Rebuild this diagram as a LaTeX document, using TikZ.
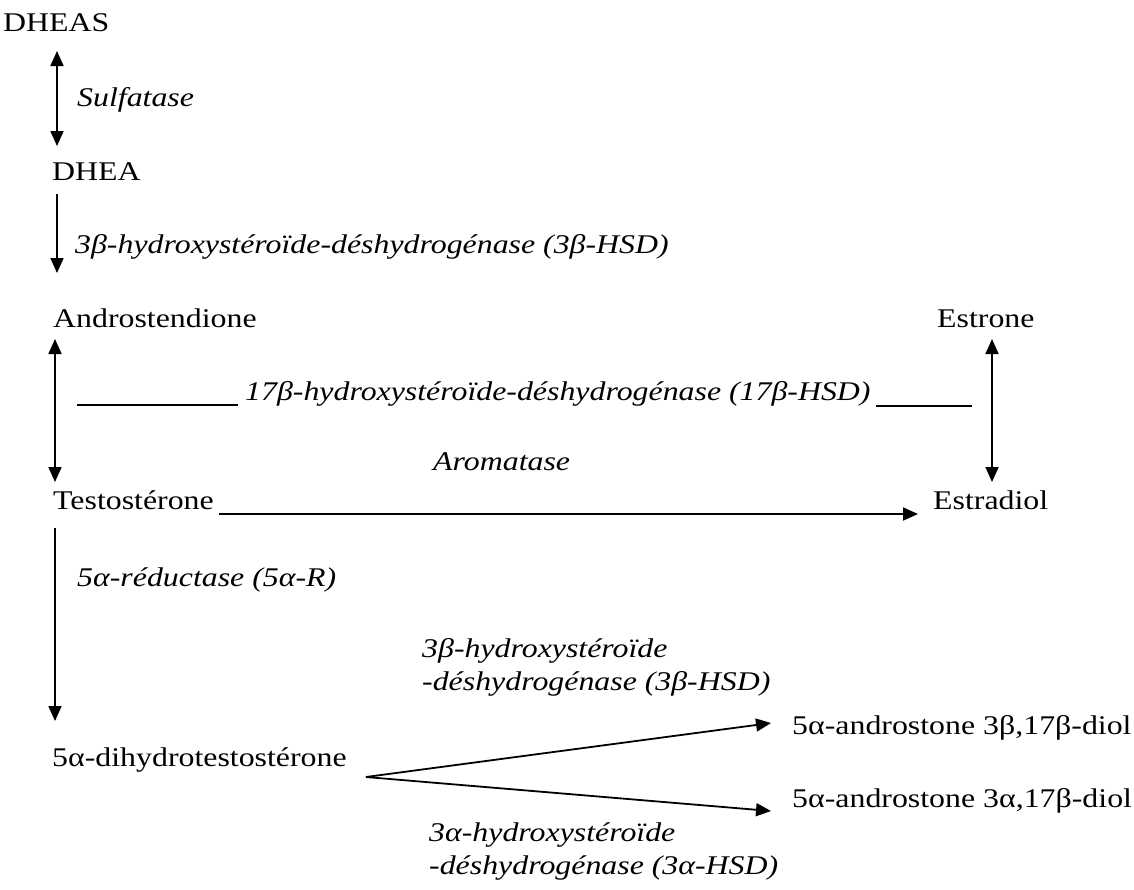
\documentclass[tikz,border=0pt]{standalone}
\usepackage{fontspec}
\setmainfont[FakeStretch=1.18]{Liberation Serif}
\usetikzlibrary{arrows.meta}
\begin{document}
\begin{tikzpicture}[x=1pt,y=-1pt,
	every node/.style={anchor=base west,inner sep=0pt,font=\fontsize{27}{32}\selectfont},
	enzyme/.style={font=\fontsize{27}{32}\selectfont\itshape},
	reaction/.style={line width=1.8pt,-{Triangle[length=15pt,width=13pt]}},
	reversible/.style={line width=1.8pt,{Triangle[length=15pt,width=13pt]}-{Triangle[length=15pt,width=13pt]}}]
\useasboundingbox (0,0) rectangle (1134,889);
% substrates
\node (dheas) at (3,31) {DHEAS};
\node (dhea) at (52,180) {DHEA};
\node (andro) at (53,327) {Androstendione};
\node (estrone) at (937,327) {Estrone};
\node (testo) at (53,509) {Testostérone};
\node (estradiol) at (933,509) {Estradiol};
\node (dht) at (52,766) {5α-dihydrotestostérone};
\node (diolb) at (792,734) {5α-androstone 3β,17β-diol};
\node (diola) at (792,807) {5α-androstone 3α,17β-diol};
% enzymes
\node[enzyme] (sulf) at (77,106) {Sulfatase};
\node[enzyme] (hsd3) at (75,253) {3β-hydroxystéroïde-déshydrogénase (3β-HSD)};
\node[enzyme] (hsd17) at (245,400) {17β-hydroxystéroïde-déshydrogénase (17β-HSD)};
\node[enzyme] (arom) at (433,470) {Aromatase};
\node[enzyme] (red5) at (77,586) {5α-réductase (5α-R)};
\node[enzyme] (hsdb1) at (422,657) {3β-hydroxystéroïde};
\node[enzyme] (hsdb2) at (422,690) {-déshydrogénase (3β-HSD)};
\node[enzyme] (hsda1) at (429,841) {3α-hydroxystéroïde};
\node[enzyme] (hsda2) at (429,874) {-déshydrogénase (3α-HSD)};
% reactions
\coordinate (fork) at ([xshift=19pt,yshift=-11pt]dht.base east);
\draw[reversible] (57,51) -- (57,146);
\draw[reaction] (57,194) -- (57,273);
\draw[reversible] (55,339) -- (55,482);
\draw[reversible] (992,339) -- (992,482);
\draw[line width=1.1pt] (77,405) -- (238,405);
\draw[line width=1.1pt] (876,406) -- (972,406);
\draw[reaction] ([xshift=5pt,yshift=-5pt]testo.base east) -- ([xshift=-15pt,yshift=-5pt]estradiol.base west);
\draw[reaction] (55,528) -- (55,721);
\draw[reaction] (fork) -- ([xshift=-21pt,yshift=11pt]diolb.base west);
\draw[reaction] (fork) -- ([xshift=-21pt,yshift=-4pt]diola.base west);
\end{tikzpicture}
\end{document}
